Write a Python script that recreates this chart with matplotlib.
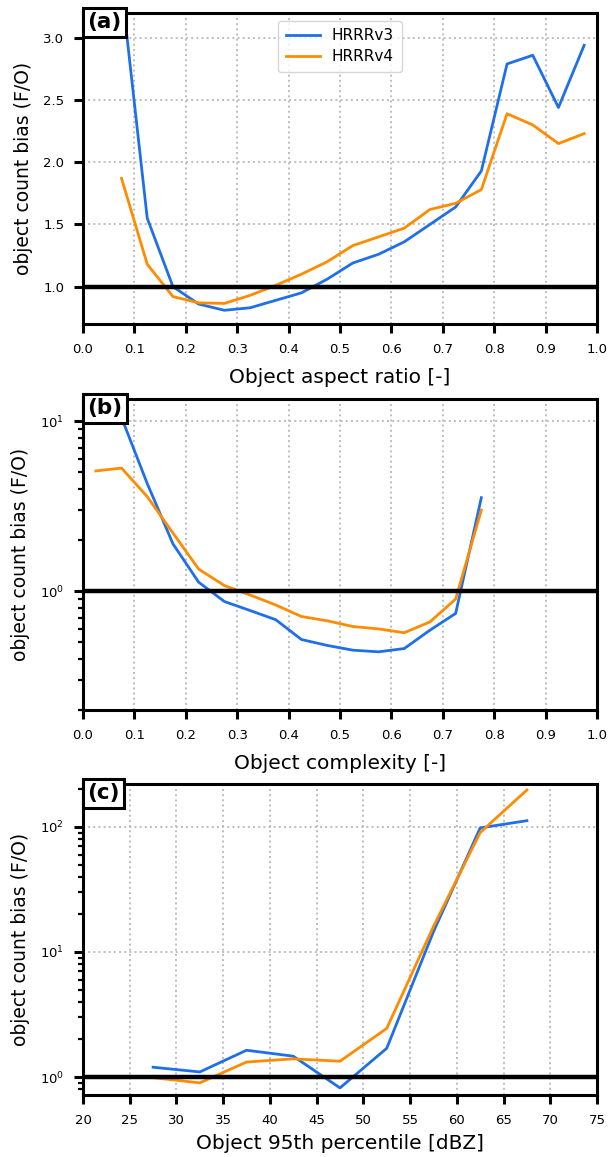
import matplotlib
matplotlib.use("Agg")
import matplotlib.pyplot as plt
from matplotlib.offsetbox import AnchoredText

BLUE = "#1f6fe8"
ORANGE = "#ff8c00"
GRID = "#bdbdbd"

labels = ["HRRRv3", "HRRRv4"]

# (a) aspect ratio bins
x_aspect = [0.075, 0.125, 0.175, 0.225, 0.275, 0.325, 0.375, 0.425, 0.475, 0.525,
            0.575, 0.625, 0.675, 0.725, 0.775, 0.825, 0.875, 0.925, 0.975]
v3_aspect = [3.4, 1.55, 1.0, 0.86, 0.81, 0.83, 0.89, 0.95, 1.06, 1.19,
             1.26, 1.36, 1.50, 1.64, 1.93, 2.79, 2.86, 2.44, 2.94]
v4_aspect = [1.87, 1.18, 0.92, 0.87, 0.865, 0.93, 1.01, 1.10, 1.20, 1.33,
             1.40, 1.47, 1.62, 1.67, 1.78, 2.39, 2.30, 2.15, 2.23]

# (b) complexity bins
x_cplx_v3 = [0.075, 0.125, 0.175, 0.225, 0.275, 0.325, 0.375, 0.425, 0.475, 0.525,
             0.575, 0.625, 0.675, 0.725, 0.775]
v3_cplx = [10.5, 4.3, 1.9, 1.13, 0.87, 0.77, 0.68, 0.52, 0.48, 0.45,
           0.44, 0.46, 0.59, 0.74, 3.55]
x_cplx_v4 = [0.025, 0.075, 0.125, 0.175, 0.225, 0.275, 0.325, 0.375, 0.425, 0.475,
             0.525, 0.575, 0.625, 0.675, 0.725, 0.775]
v4_cplx = [5.1, 5.3, 3.6, 2.2, 1.35, 1.08, 0.95, 0.83, 0.71, 0.67,
           0.62, 0.60, 0.57, 0.66, 0.90, 3.0]

# (c) 95th percentile reflectivity bins
x_p95 = [27.5, 32.5, 37.5, 42.5, 47.5, 52.5, 57.5, 62.5, 67.5]
v3_p95 = [1.2, 1.1, 1.64, 1.47, 0.82, 1.7, 14.5, 98, 112]
v4_p95 = [0.99, 0.9, 1.32, 1.4, 1.34, 2.45, 16, 90, 197]


def style(ax, label):
    for s in ax.spines.values():
        s.set_linewidth(2.2)
    ax.tick_params(which="major", length=6.5, width=2.2, labelsize=9.5, pad=7)
    ax.tick_params(which="minor", length=3.8, width=1.6)
    ax.grid(True, which="major", linestyle=":", color=GRID, linewidth=1.4)
    ax.axhline(1.0, color="black", linewidth=3.2, zorder=3)
    at = AnchoredText(label, loc="upper left", borderpad=0, pad=0.2,
                      prop=dict(fontsize=15.5, fontweight="bold"),
                      bbox_to_anchor=(0.0, 1.016), bbox_transform=ax.transAxes)
    at.patch.set_linewidth(2.2)
    at.patch.set_edgecolor("black")
    at.set_zorder(6)
    ax.add_artist(at)
    ax.set_ylabel("object count bias (F/O)", fontsize=13.5, labelpad=7)


fig = plt.figure(figsize=(6.08, 11.57), dpi=100)
left, width, height = 0.1365, 0.8454, 0.2688

ax1 = fig.add_axes([left, 0.720, width, height])
ax1.plot(x_aspect, v3_aspect, color=BLUE, lw=2, label=labels[0])
ax1.plot(x_aspect, v4_aspect, color=ORANGE, lw=2, label=labels[1])
ax1.set_xlim(0, 1)
ax1.set_ylim(0.7, 3.2)
ax1.set_xticks([i / 10 for i in range(11)])
ax1.set_yticks([1.0, 1.5, 2.0, 2.5, 3.0])
ax1.set_xlabel("Object aspect ratio [-]", fontsize=14.5, labelpad=9)
style(ax1, "(a)")
ax1.legend(loc="upper center", fontsize=11, handlelength=2.2, borderpad=0.5,
           labelspacing=0.4)

ax2 = fig.add_axes([left, 0.3863, width, height])
ax2.plot(x_cplx_v3, v3_cplx, color=BLUE, lw=2)
ax2.plot(x_cplx_v4, v4_cplx, color=ORANGE, lw=2)
ax2.set_yscale("log")
ax2.set_xlim(0, 1)
ax2.set_ylim(0.2, 13.5)
ax2.set_xticks([i / 10 for i in range(11)])
ax2.set_xlabel("Object complexity [-]", fontsize=14.5, labelpad=8.5)
style(ax2, "(b)")

ax3 = fig.add_axes([left, 0.0536, width, height])
ax3.plot(x_p95, v3_p95, color=BLUE, lw=2)
ax3.plot(x_p95, v4_p95, color=ORANGE, lw=2)
ax3.set_yscale("log")
ax3.set_xlim(20, 75)
ax3.set_ylim(0.72, 220)
ax3.set_xticks(list(range(20, 80, 5)))
ax3.set_xlabel("Object 95th percentile [dBZ]", fontsize=14.5, labelpad=5)
style(ax3, "(c)")

fig.savefig("out.png", dpi=100)
